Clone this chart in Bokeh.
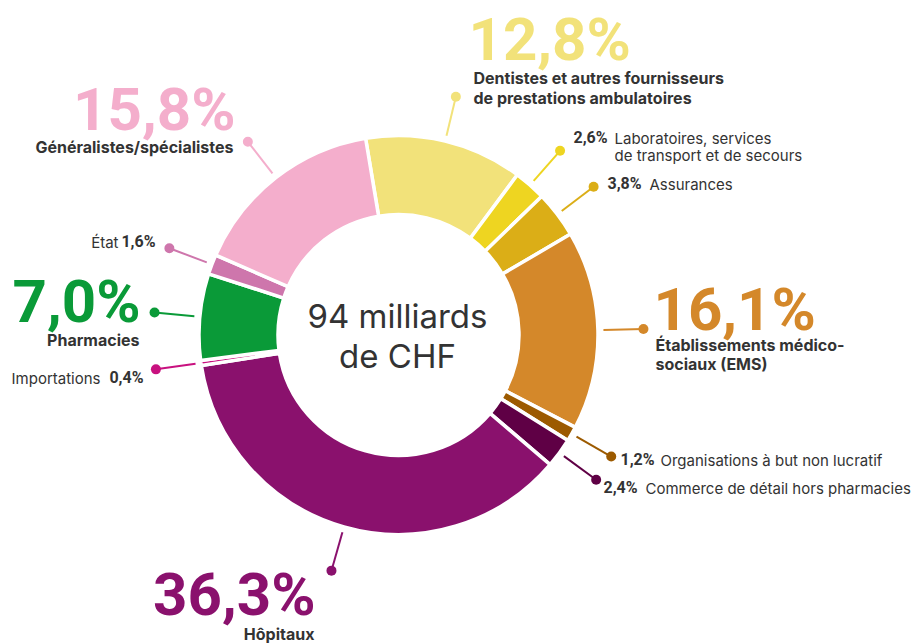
import math
from bokeh.plotting import figure
from bokeh.models import Range1d, ColumnDataSource
from bokeh.embed import file_html
from bokeh.resources import INLINE
from bokeh.core.properties import value

# ---------------- data ----------------
categories = [
    "Dentistes et autres fournisseurs de prestations ambulatoires",
    "Laboratoires, services de transport et de secours",
    "Assurances",
    "Établissements médico-sociaux (EMS)",
    "Organisations à but non lucratif",
    "Commerce de détail hors pharmacies",
    "Hôpitaux",
    "Importations",
    "Pharmacies",
    "État",
    "Généralistes/spécialistes",
]
shares = [12.8, 2.6, 3.8, 16.1, 1.2, 2.4, 36.3, 0.4, 7.0, 1.6, 15.8]
pct_labels = ["12,8%", "2,6%", "3,8%", "16,1%", "1,2%", "2,4%",
              "36,3%", "0,4%", "7,0%", "1,6%", "15,8%"]
colors = ["#F2E27A", "#EED521", "#DBAE17", "#D4882A", "#9C5A00", "#5F0045",
          "#8A116D", "#C8117F", "#0A9A38", "#CE76AC", "#F4AECC"]
center_lines = ["94 milliards", "de CHF"]

# ---------------- layout ----------------
W, H = 914, 643
K = 0.35  # baseline compensation (fraction of font size)
def X(sx): return sx
def Y(sy): return H - sy

CX, CY = X(398), Y(334.5)
R_OUT, R_IN = 199.5, 120.5
R_L0, R_L1 = 205, 245
START = math.radians(99.5)
TEXT = "#333333"

p = figure(width=W, height=H, output_backend="svg", toolbar_location=None,
           x_range=Range1d(0, W), y_range=Range1d(0, H), min_border=0)
p.axis.visible = False
p.grid.visible = False
p.outline_line_color = None
p.background_fill_color = "white"
p.border_fill_color = "white"

tot = sum(shares)
starts, ends, mids = [], [], []
c = 0.0
for s in shares:
    a0 = START - c / tot * 2 * math.pi
    c += s
    a1 = START - c / tot * 2 * math.pi
    starts.append(a0); ends.append(a1); mids.append((a0 + a1) / 2)

src = ColumnDataSource(dict(start=starts, end=ends, color=colors, cat=categories))
p.annular_wedge(x=CX, y=CY, inner_radius=R_IN, outer_radius=R_OUT,
                start_angle="start", end_angle="end", direction="clock",
                fill_color="color", line_color="white", line_width=3.5, source=src)

lx0 = [CX + R_L0 * math.cos(m) for m in mids]
ly0 = [CY + R_L0 * math.sin(m) for m in mids]
lx1 = [CX + R_L1 * math.cos(m) for m in mids]
ly1 = [CY + R_L1 * math.sin(m) for m in mids]
p.segment(x0=lx0, y0=ly0, x1=lx1, y1=ly1, line_color=colors, line_width=2)
p.scatter(x=lx1, y=ly1, size=10, fill_color=colors, line_color=None)

def txt(t, sx, sy, size, style="normal", color=TEXT, align="left", font="Inter"):
    p.text(x=[X(sx)], y=[Y(sy - K * size)], text=[t], text_font=value(font),
           text_font_size=f"{size}px", text_font_style=style, text_color=color,
           text_align=align, text_baseline="alphabetic")

def big(t, sx, sy, color, align="left"):
    txt(t, sx, sy, 60, "bold", color, align, "Roboto")

def pct(t, sx, sy, align="left"):
    txt(t, sx, sy, 16, "bold", TEXT, align, "Roboto")

SB = 16   # small bold words
SN = 15   # small normal

# 12,8 % Dentistes
big(pct_labels[0], 468, 60, colors[0])
txt("Dentistes et autres fournisseurs", 473, 83, SB, "bold")
txt("de prestations ambulatoires", 473, 103, SB, "bold")
# 2,6 %
pct(pct_labels[1], 573, 143)
txt("Laboratoires, services", 614, 143, SN)
txt("de transport et de secours", 614, 160, SN)
# 3,8 %
pct(pct_labels[2], 607, 189)
txt("Assurances", 649, 189, SN)
# 16,1 %
big(pct_labels[3], 653, 330, colors[3])
txt("Établissements médico-", 655, 350, SB, "bold")
txt("sociaux (EMS)", 655, 369, SB, "bold")
# 1,2 %
pct(pct_labels[4], 620, 465)
txt("Organisations à but non lucratif", 660, 465, SN)
# 2,4 %
pct(pct_labels[5], 603, 493)
txt("Commerce de détail hors pharmacies", 645, 493, SN)
# 36,3 % Hôpitaux
big(pct_labels[6], 315, 615, colors[6], "right")
txt("Hôpitaux", 314, 639, SB, "bold", TEXT, "right")
# 0,4 % Importations
pct(pct_labels[7], 143, 383, "right")
txt("Importations", 100, 383, SN, "normal", TEXT, "right")
# 7,0 % Pharmacies
big(pct_labels[8], 140, 322, colors[8], "right")
txt("Pharmacies", 139, 345, SB, "bold", TEXT, "right")
# 1,6 % État
pct(pct_labels[9], 155, 247, "right")
txt("État", 118, 247, SN, "normal", TEXT, "right")
# 15,8 % Généralistes
big(pct_labels[10], 235, 130, colors[10], "right")
txt("Généralistes/spécialistes", 233, 152, SB, "bold", TEXT, "right")

# centre
txt(center_lines[0], 397, 327, 33, "normal", TEXT, "center")
txt(center_lines[1], 397, 367, 33, "normal", TEXT, "center")

open("out.html", "w").write(file_html(p, INLINE))
